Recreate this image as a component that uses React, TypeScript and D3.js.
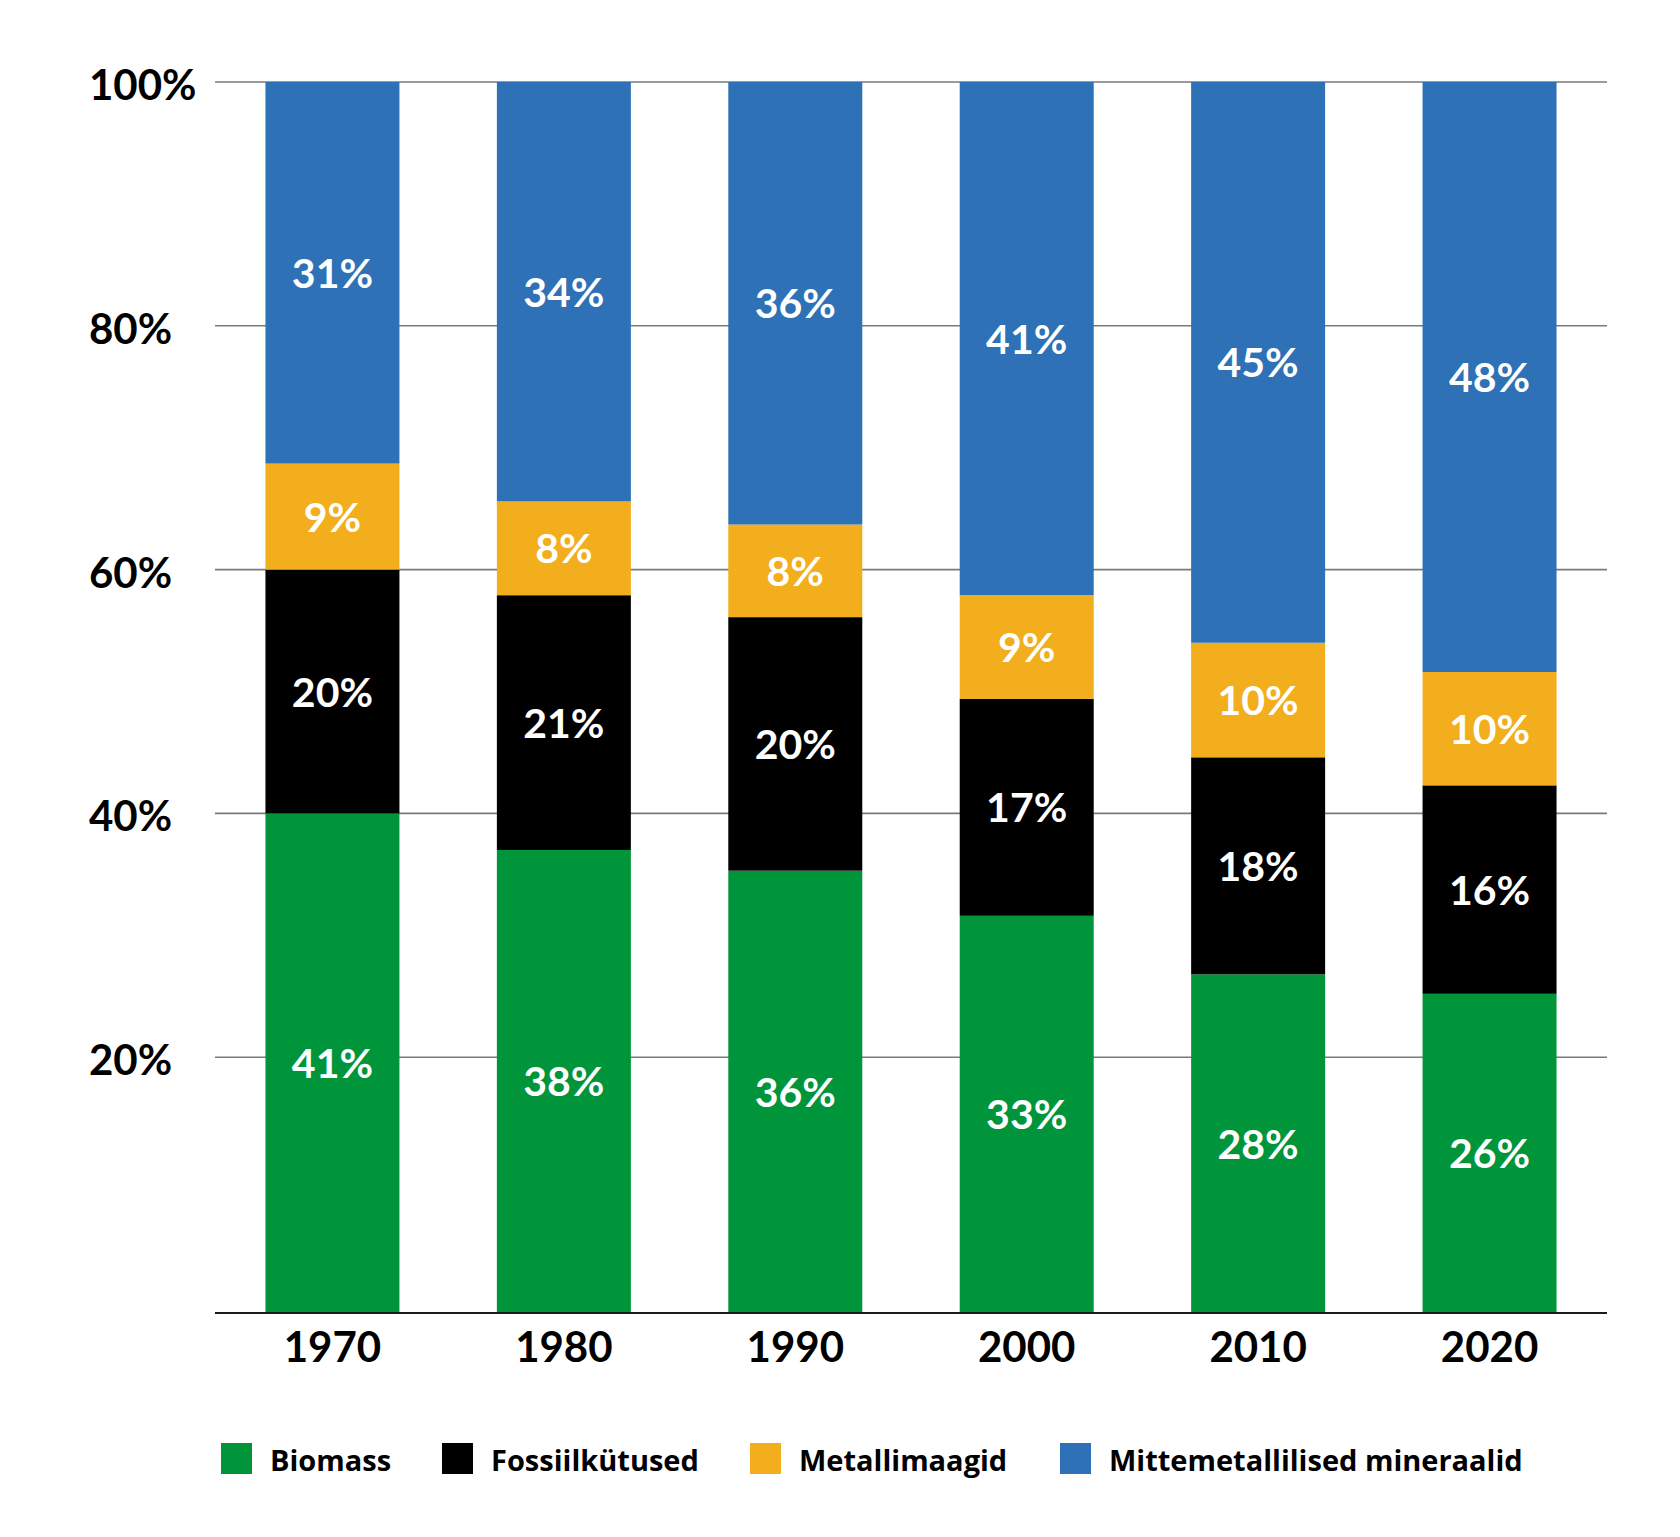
import React from "react";
import * as d3 from "d3";

const years = ["1970", "1980", "1990", "2000", "2010", "2020"];
const biomass = [40.0, 37.0, 35.3, 31.6, 26.8, 25.2];
const fossil = [20.0, 20.9, 20.8, 17.8, 17.8, 17.1];
const metal = [8.7, 7.7, 7.6, 8.5, 9.4, 9.3];
const nonmetal = [31.3, 34.4, 36.3, 42.1, 46.0, 48.4];

const biomassLabels = ["41%", "38%", "36%", "33%", "28%", "26%"];
const fossilLabels = ["20%", "21%", "20%", "17%", "18%", "16%"];
const metalLabels = ["9%", "8%", "8%", "9%", "10%", "10%"];
const nonmetalLabels = ["31%", "34%", "36%", "41%", "45%", "48%"];

const seriesNames = ["Biomass", "Fossiilkütused", "Metallimaagid", "Mittemetallilised mineraalid"];
const seriesColors = ["#00953a", "#000000", "#f2ae1d", "#2e71b6"];
const yTicks = [20, 40, 60, 80, 100];

const W = 1680;
const H = 1537;
const FONT = "Lato, 'Open Sans', sans-serif";
const LEGEND_FONT = "'Open Sans', Lato, sans-serif";

export default function App() {
  const x = d3.scaleBand<string>().domain(years).range([215, 1607]).paddingInner(0.421).paddingOuter(0.218);
  const y = d3.scaleLinear().domain([0, 100]).range([1301, 82]);
  const baseY = 1313;

  const table = years.map((yr, i) => ({
    year: yr,
    s0: biomass[i],
    s1: fossil[i],
    s2: metal[i],
    s3: nonmetal[i],
  }));
  const keys = ["s0", "s1", "s2", "s3"];
  const stacked = d3.stack<any>().keys(keys)(table);
  const labels = [biomassLabels, fossilLabels, metalLabels, nonmetalLabels];
  const bottom = (v: number) => (v === 0 ? baseY : y(v));

  const legendX = [221, 442, 750, 1060];
  const legendY = 1443;
  const sq = 31;

  const bw = x.bandwidth();

  return (
    <svg width={W} height={H} style={{ position: "absolute", left: 0, top: 0, background: "#fff" }} fontFamily={FONT}>
      {yTicks.map((t) => (
        <line key={t} x1={215} x2={1607} y1={y(t)} y2={y(t)} stroke="#7a7a7a" strokeWidth={1.6} />
      ))}
      {yTicks.map((t) => (
        <text key={"l" + t} x={89} y={y(t) + 18} fontSize={42} fontWeight={700} fill="#000">
          {t}%
        </text>
      ))}
      {stacked.map((layer, si) => (
        <g key={si} fill={seriesColors[si]}>
          {layer.map((d, i) => (
            <rect key={i} x={x(years[i])} width={bw} y={y(d[1])} height={bottom(d[0]) - y(d[1])} />
          ))}
        </g>
      ))}
      {stacked.map((layer, si) =>
        layer.map((d, i) => (
          <text
            key={"t" + si + "-" + i}
            x={(x(years[i]) as number) + bw / 2}
            y={(bottom(d[0]) + y(d[1])) / 2 + 15}
            textAnchor="middle"
            fontSize={41}
            fontWeight={700}
            fill="#fff"
          >
            {labels[si][i]}
          </text>
        ))
      )}
      <line x1={215} x2={1607} y1={baseY} y2={baseY} stroke="#1a1a1a" strokeWidth={2} />
      {years.map((yr) => (
        <text key={yr} x={(x(yr) as number) + bw / 2} y={baseY + 49} textAnchor="middle" fontSize={42} fontWeight={700} fill="#000">
          {yr}
        </text>
      ))}
      {seriesNames.map((name, i) => (
        <g key={name} transform={`translate(${legendX[i]},${legendY})`}>
          <rect width={sq} height={sq} fill={seriesColors[i]} />
          <text x={sq + 18} y={28} fontSize={29} fontWeight={700} fill="#000" fontFamily={LEGEND_FONT}>
            {name}
          </text>
        </g>
      ))}
    </svg>
  );
}
